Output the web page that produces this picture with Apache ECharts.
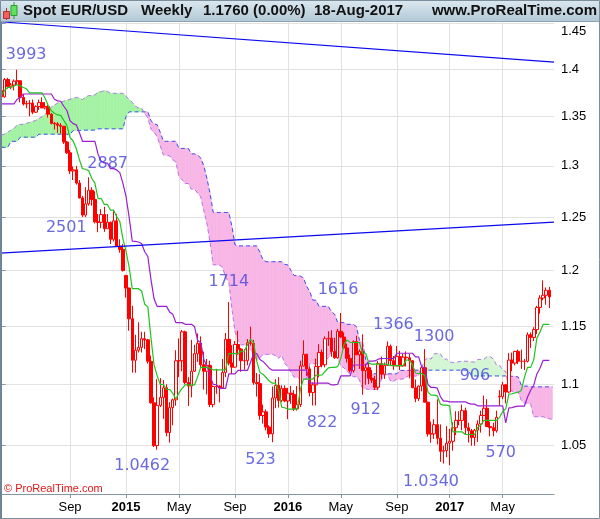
<!DOCTYPE html>
<html><head><meta charset="utf-8">
<script src="https://cdn.jsdelivr.net/npm/echarts@6/dist/echarts.min.js"></script>
<style>html,body{margin:0;padding:0;background:#fff}#c{width:600px;height:519px}</style>
</head><body><div id="c"></div><script>
// ---------- data (weekly EUR/USD, week index 0 = 2014-03-31) ----------
const startWeek = '2014-03-31';
const xTickIdx  = [22, 40, 57, 75, 92, 109, 127, 144, 161];
const xTickText = ['Sep', '2015', 'May', 'Sep', '2016', 'May', 'Sep', '2017', 'May'];
const yTickVals = [1.05, 1.1, 1.15, 1.2, 1.25, 1.3, 1.35, 1.4, 1.45];
const yRange = [1.0114, 1.4513];

const open = [
1.3770,1.3705,1.3888,1.3812,1.3830,1.3870,1.3875,1.3700,1.3630,1.3635,
1.3640,1.3545,1.3605,1.3645,1.3590,1.3605,1.3525,1.3430,1.3425,1.3410,
1.3400,1.3240,1.3131,1.2950,1.2962,1.2830,1.2685,1.2520,1.2628,1.2760,
1.2670,1.2455,1.2450,1.2525,1.2390,1.2452,1.2290,1.2465,1.2227,1.2195,
1.1955,1.1840,1.1565,1.1204,1.1290,1.1315,1.1390,1.1380,1.1195,1.0845,
1.0495,1.0823,1.0890,1.0970,1.0600,1.0805,1.0870,1.1200,1.1200,1.1450,
1.1015,1.0985,1.1110,1.1260,1.1350,1.1165,1.1110,1.1160,1.0830,1.0980,
1.0985,1.0970,1.1100,1.1385,1.1180,1.1145,1.1340,1.1300,1.1200,1.1200,
1.1355,1.1350,1.1015,1.1005,1.0740,1.0770,1.0645,1.0590,1.0885,1.0990,
1.0865,1.0965,1.0860,1.0925,1.0915,1.0795,1.0830,1.1155,1.1255,1.1130,
1.0930,1.0995,1.1150,1.1270,1.1165,1.1390,1.1395,1.1280,1.1225,1.1455,
1.1405,1.1310,1.1220,1.1115,1.1365,1.1250,1.1280,1.1115,1.1140,1.1050,
1.1035,1.0975,1.1175,1.1085,1.1160,1.1325,1.1200,1.1155,1.1235,1.1155,
1.1230,1.1225,1.1200,1.0970,1.0880,1.0985,1.1140,1.0850,1.0590,1.0590,
1.0665,1.0555,1.0450,1.0455,1.0515,1.0530,1.0640,1.0700,1.0700,1.0780,
1.0640,1.0615,1.0560,1.0620,1.0670,1.0740,1.0800,1.0650,1.0640,1.0615,
1.0900,1.0895,1.0995,1.0935,1.1205,1.1180,1.1280,1.1195,1.1195,1.1195,
1.1425,1.1400,1.1470,1.1665,1.1750,1.1775,1.1820];
const close = [
1.3705,1.3888,1.3812,1.3830,1.3870,1.3875,1.3700,1.3630,1.3635,1.3640,
1.3545,1.3605,1.3645,1.3590,1.3605,1.3525,1.3430,1.3425,1.3410,1.3400,
1.3240,1.3131,1.2950,1.2962,1.2830,1.2685,1.2520,1.2628,1.2760,1.2670,
1.2455,1.2450,1.2525,1.2390,1.2452,1.2290,1.2465,1.2227,1.2195,1.2000,
1.1840,1.1565,1.1204,1.1290,1.1315,1.1390,1.1380,1.1195,1.0845,1.0495,
1.0823,1.0890,1.0970,1.0600,1.0805,1.0870,1.1200,1.1200,1.1450,1.1015,
1.0985,1.1110,1.1260,1.1350,1.1165,1.1110,1.1160,1.0830,1.0980,1.0985,
1.0970,1.1100,1.1385,1.1180,1.1145,1.1340,1.1300,1.1200,1.1200,1.1355,
1.1350,1.1015,1.1005,1.0740,1.0770,1.0645,1.0590,1.0885,1.0990,1.0865,
1.0965,1.0860,1.0925,1.0915,1.0795,1.0830,1.1155,1.1255,1.1130,1.0930,
1.0995,1.1150,1.1270,1.1165,1.1390,1.1395,1.1280,1.1225,1.1455,1.1405,
1.1310,1.1220,1.1115,1.1365,1.1250,1.1280,1.1115,1.1140,1.1050,1.1035,
1.0975,1.1175,1.1085,1.1160,1.1325,1.1200,1.1155,1.1235,1.1155,1.1230,
1.1225,1.1200,1.0970,1.0880,1.0985,1.1140,1.0850,1.0590,1.0590,1.0665,
1.0555,1.0450,1.0455,1.0515,1.0530,1.0640,1.0700,1.0700,1.0780,1.0640,
1.0615,1.0560,1.0620,1.0670,1.0740,1.0800,1.0650,1.0640,1.0615,1.0725,
1.0895,1.0995,1.0935,1.1205,1.1180,1.1280,1.1195,1.1195,1.1195,1.1425,
1.1400,1.1470,1.1665,1.1750,1.1775,1.1820,1.1760];
const high = [
1.3810,1.3905,1.3906,1.3852,1.3890,1.3993,1.3877,1.3734,1.3665,1.3670,
1.3677,1.3616,1.3677,1.3700,1.3650,1.3640,1.3535,1.3445,1.3443,1.3433,
1.3404,1.3250,1.3160,1.2995,1.3000,1.2860,1.2705,1.2790,1.2887,1.2790,
1.2750,1.2530,1.2577,1.2600,1.2530,1.2456,1.2570,1.2530,1.2290,1.2245,
1.1960,1.1843,1.1680,1.1424,1.1534,1.1450,1.1450,1.1388,1.1245,1.0890,
1.1043,1.1052,1.1035,1.1000,1.0850,1.0880,1.1290,1.1392,1.1467,1.1460,
1.1060,1.1380,1.1337,1.1436,1.1410,1.1278,1.1215,1.1200,1.0990,1.1130,
1.0990,1.1215,1.1440,1.1714,1.1334,1.1370,1.1460,1.1310,1.1300,1.1387,
1.1495,1.1380,1.1095,1.1085,1.0830,1.0790,1.0660,1.0981,1.1043,1.1060,
1.0990,1.0990,1.0970,1.0986,1.0950,1.0985,1.1200,1.1376,1.1260,1.1150,
1.1015,1.1218,1.1342,1.1295,1.1410,1.1455,1.1464,1.1398,1.1476,1.1616,
1.1445,1.1348,1.1252,1.1375,1.1416,1.1297,1.1428,1.1175,1.1185,1.1120,
1.1070,1.1198,1.1235,1.1185,1.1366,1.1340,1.1240,1.1327,1.1285,1.1257,
1.1280,1.1260,1.1205,1.1040,1.0990,1.1145,1.1300,1.0855,1.0690,1.0710,
1.0874,1.0667,1.0495,1.0653,1.0630,1.0685,1.0775,1.0775,1.0830,1.0805,
1.0680,1.0630,1.0630,1.0700,1.0780,1.0905,1.0875,1.0690,1.0680,1.0780,
1.0950,1.1020,1.1000,1.1265,1.1270,1.1285,1.1295,1.1295,1.1215,1.1445,
1.1445,1.1490,1.1680,1.1775,1.1910,1.1845,1.1850];
const low = [
1.3673,1.3697,1.3792,1.3786,1.3773,1.3832,1.3648,1.3615,1.3586,1.3503,
1.3525,1.3539,1.3568,1.3590,1.3574,1.3490,1.3420,1.3367,1.3333,1.3325,
1.3221,1.3120,1.2920,1.2860,1.2815,1.2680,1.2501,1.2500,1.2610,1.2610,
1.2440,1.2357,1.2395,1.2360,1.2390,1.2246,1.2270,1.2220,1.2165,1.1990,
1.1754,1.1460,1.1098,1.1097,1.1270,1.1270,1.1300,1.1176,1.0838,1.0485,
1.0462,1.0810,1.0713,1.0570,1.0520,1.0660,1.0820,1.1060,1.1110,1.1000,
1.0819,1.0890,1.1105,1.1190,1.1133,1.0955,1.0915,1.0809,1.0807,1.0920,
1.0848,1.0960,1.1060,1.1160,1.1087,1.1140,1.1250,1.1105,1.1123,1.1160,
1.1330,1.0995,1.0897,1.0705,1.0674,1.0618,1.0558,1.0523,1.0800,1.0805,
1.0850,1.0850,1.0710,1.0836,1.0778,1.0780,1.0810,1.1150,1.1070,1.0898,
1.0822,1.0823,1.1058,1.1144,1.1143,1.1328,1.1234,1.1215,1.1217,1.1395,
1.1300,1.1185,1.1099,1.1098,1.1248,1.1130,1.0912,1.0995,1.1000,1.1010,
1.0952,1.0950,1.1045,1.1045,1.1155,1.1160,1.1120,1.1155,1.1120,1.1150,
1.1150,1.1050,1.0968,1.0850,1.0860,1.0940,1.0850,1.0568,1.0518,1.0550,
1.0505,1.0366,1.0352,1.0403,1.0340,1.0455,1.0580,1.0660,1.0620,1.0590,
1.0520,1.0494,1.0495,1.0525,1.0600,1.0735,1.0650,1.0570,1.0570,1.0600,
1.0820,1.0875,1.0840,1.0925,1.1110,1.1160,1.1170,1.1130,1.1120,1.1185,
1.1310,1.1370,1.1430,1.1610,1.1730,1.1690,1.1660];

// Ichimoku lines
const tenkan = [
1.3722,1.3774,1.3805,1.3805,1.3820,1.3833,1.3821,1.3804,1.3790,1.3748,
1.3748,1.3748,1.3748,1.3748,1.3690,1.3612,1.3560,1.3534,1.3517,1.3513,
1.3461,1.3410,1.3285,1.3250,1.3175,1.3063,1.2972,1.2967,1.2952,1.2875,
1.2830,1.2679,1.2679,1.2622,1.2622,1.2567,1.2567,1.2505,1.2458,1.2295,
1.2177,1.2030,1.1834,1.1834,1.1834,1.1814,1.1694,1.1671,1.1399,1.1164,
1.1071,1.0998,1.0998,1.0956,1.0956,1.0925,1.0876,1.0927,1.0965,1.0994,
1.0994,1.0994,1.0994,1.1064,1.1143,1.1143,1.1143,1.1135,1.1122,1.1122,
1.1122,1.1122,1.1124,1.1261,1.1261,1.1261,1.1261,1.1281,1.1281,1.1337,
1.1387,1.1355,1.1196,1.1100,1.1085,1.1057,1.1027,1.1009,1.1009,1.0952,
1.0809,1.0804,1.0792,1.0792,1.0792,1.0792,1.0955,1.1043,1.1043,1.1043,
1.1043,1.1077,1.1077,1.1078,1.1110,1.1139,1.1143,1.1143,1.1149,1.1220,
1.1337,1.1380,1.1358,1.1357,1.1357,1.1357,1.1264,1.1264,1.1179,1.1170,
1.1170,1.1170,1.1170,1.1170,1.1170,1.1158,1.1158,1.1158,1.1158,1.1158,
1.1206,1.1206,1.1167,1.1095,1.1089,1.1089,1.1075,1.0934,1.0909,1.0909,
1.0903,1.0833,1.0826,1.0826,1.0820,1.0607,1.0607,1.0607,1.0607,1.0585,
1.0585,1.0585,1.0585,1.0643,1.0662,1.0700,1.0700,1.0700,1.0700,1.0700,
1.0723,1.0773,1.0795,1.0918,1.0920,1.0928,1.0933,1.0948,1.1058,1.1143,
1.1143,1.1208,1.1395,1.1448,1.1515,1.1515,1.1515];
const kijun = [
1.3631,1.3631,1.3631,1.3631,1.3631,1.3680,1.3697,1.3735,1.3735,1.3735,
1.3735,1.3735,1.3735,1.3735,1.3735,1.3735,1.3735,1.3680,1.3663,1.3659,
1.3607,1.3563,1.3457,1.3427,1.3415,1.3337,1.3247,1.3247,1.3247,1.3247,
1.3247,1.3117,1.3046,1.3029,1.3029,1.2973,1.2973,1.2960,1.2933,1.2828,
1.2697,1.2498,1.2272,1.2270,1.2265,1.2251,1.2174,1.2129,1.1919,1.1743,
1.1675,1.1675,1.1675,1.1675,1.1626,1.1606,1.1531,1.1531,1.1531,1.1516,
1.1516,1.1516,1.1496,1.1376,1.1354,1.1211,1.1153,1.1071,1.0998,1.0998,
1.0965,1.0965,1.0965,1.1088,1.1088,1.1088,1.1117,1.1117,1.1117,1.1117,
1.1187,1.1261,1.1261,1.1210,1.1194,1.1166,1.1136,1.1119,1.1119,1.1119,
1.1119,1.1119,1.1119,1.1119,1.1119,1.1119,1.1119,1.1119,1.1119,1.1009,
1.1009,1.1009,1.1009,1.1009,1.1009,1.1009,1.0994,1.0994,1.1000,1.1070,
1.1070,1.1070,1.1070,1.1163,1.1163,1.1163,1.1163,1.1163,1.1197,1.1197,
1.1198,1.1213,1.1219,1.1219,1.1219,1.1219,1.1219,1.1264,1.1264,1.1264,
1.1264,1.1264,1.1264,1.1233,1.1233,1.1148,1.1139,1.0998,1.0973,1.0973,
1.0967,1.0897,1.0859,1.0859,1.0853,1.0853,1.0853,1.0853,1.0853,1.0853,
1.0840,1.0834,1.0834,1.0820,1.0820,1.0820,1.0820,1.0820,1.0820,1.0820,
1.0820,1.0820,1.0680,1.0803,1.0805,1.0813,1.0818,1.0818,1.0818,1.0893,
1.0950,1.0992,1.1087,1.1135,1.1202,1.1202,1.1202];
const spanA = [
1.3310,1.3320,1.3340,1.3360,1.3380,1.3410,1.3420,1.3420,1.3430,1.3440,
1.3450,1.3460,1.3480,1.3500,1.3520,1.3560,1.3600,1.3620,1.3640,1.3650,
1.3660,1.3670,1.3680,1.3690,1.3700,1.3690,1.3677,1.3703,1.3718,1.3718,
1.3726,1.3757,1.3759,1.3770,1.3763,1.3742,1.3742,1.3742,1.3742,1.3742,
1.3713,1.3674,1.3648,1.3607,1.3590,1.3586,1.3534,1.3487,1.3371,1.3339,
1.3295,1.3200,1.3110,1.3107,1.3100,1.3061,1.3039,1.2898,1.2863,1.2826,
1.2826,1.2770,1.2770,1.2733,1.2696,1.2562,1.2437,1.2264,1.2053,1.2052,
1.2050,1.2033,1.1934,1.1900,1.1659,1.1454,1.1373,1.1337,1.1337,1.1316,
1.1291,1.1266,1.1204,1.1229,1.1248,1.1255,1.1255,1.1255,1.1245,1.1220,
1.1249,1.1177,1.1148,1.1103,1.1060,1.1060,1.1044,1.1044,1.1045,1.1175,
1.1175,1.1175,1.1189,1.1199,1.1199,1.1227,1.1287,1.1308,1.1229,1.1155,
1.1140,1.1112,1.1082,1.1064,1.1064,1.1036,1.0964,1.0962,1.0956,1.0956,
1.0956,1.0956,1.1037,1.1081,1.1081,1.1026,1.1026,1.1043,1.1043,1.1044,
1.1060,1.1074,1.1069,1.1069,1.1075,1.1145,1.1204,1.1225,1.1214,1.1260,
1.1260,1.1260,1.1214,1.1214,1.1188,1.1184,1.1184,1.1192,1.1195,1.1195,
1.1195,1.1189,1.1189,1.1211,1.1211,1.1211,1.1235,1.1235,1.1216,1.1164,
1.1161,1.1119,1.1107,1.0966,1.0941,1.0941,1.0935,1.0865,1.0843,1.0843,
1.0837,1.0730,1.0730,1.0730,1.0730,1.0719,1.0713,1.0710];
const spanB = [
1.3186,1.3186,1.3186,1.3247,1.3247,1.3247,1.3289,1.3289,1.3289,1.3289,
1.3289,1.3289,1.3319,1.3319,1.3319,1.3319,1.3319,1.3319,1.3319,1.3319,
1.3319,1.3319,1.3319,1.3356,1.3356,1.3356,1.3361,1.3361,1.3361,1.3361,
1.3361,1.3374,1.3374,1.3374,1.3374,1.3374,1.3374,1.3374,1.3374,1.3374,
1.3502,1.3549,1.3549,1.3549,1.3549,1.3549,1.3549,1.3549,1.3457,1.3427,
1.3415,1.3337,1.3247,1.3247,1.3247,1.3247,1.3247,1.3175,1.3175,1.3175,
1.3175,1.3120,1.3120,1.3107,1.3079,1.2999,1.2874,1.2727,1.2546,1.2545,
1.2545,1.2545,1.2545,1.2545,1.2416,1.2239,1.2228,1.2228,1.2228,1.2228,
1.2228,1.2228,1.2228,1.2170,1.2098,1.2081,1.2081,1.2081,1.2081,1.2081,
1.2081,1.2056,1.2051,1.1999,1.1954,1.1953,1.1948,1.1933,1.1856,1.1811,
1.1731,1.1731,1.1675,1.1675,1.1675,1.1675,1.1626,1.1606,1.1531,1.1531,
1.1531,1.1516,1.1516,1.1516,1.1496,1.1376,1.1354,1.1211,1.1153,1.1088,
1.1088,1.1088,1.1088,1.1088,1.1088,1.1088,1.1088,1.1088,1.1117,1.1117,
1.1117,1.1117,1.1119,1.1119,1.1119,1.1119,1.1119,1.1119,1.1119,1.1119,
1.1119,1.1119,1.1119,1.1119,1.1119,1.1119,1.1119,1.1119,1.1119,1.1119,
1.1119,1.1070,1.1070,1.1070,1.1070,1.1070,1.1070,1.1070,1.1070,1.1070,
1.1070,1.1070,1.1070,1.1070,1.1067,1.1067,1.1061,1.0991,1.0984,1.0984,
1.0978,1.0978,1.0978,1.0978,1.0978,1.0978,1.0978,1.0978];

// straight trend lines: [weekIndex, price] end points
const trendUpper = [[-0.5, 1.4516], [177.5, 1.4075]];
const trendLower = [[-0.5, 1.2160], [177.5, 1.2453]];

// annotations (pips / levels) at [weekIndex, price]
const annoText  = ['3993','2887','2501','1714','1616','1366','1300','906','1.0462','523','822','912','1.0340','570'];
const annoIdx   = [7.9, 34.1, 20.8, 73.0, 108.1, 125.9, 139.0, 152.1, 45.2, 83.2, 103.0, 117.0, 138.0, 160.4];
const annoPrice = [1.4151, 1.3019, 1.2401, 1.1895, 1.1822, 1.1510, 1.1404, 1.1069, 1.0333, 1.0380, 1.0682, 1.0785, 1.0207, 1.0436];

// ---------- build ----------
const ln = Math.log;
const nCat = spanA.length; // 178 week slots
const cats = [];
{ const d0 = new Date(startWeek + 'T00:00:00Z');
  for (let i = 0; i < nCat; i++) { const d = new Date(d0.getTime() + i * 7 * 86400000); cats.push(d.toISOString().slice(0, 10)); } }

const candleData = open.map((o, i) => [ln(o), ln(close[i]), ln(low[i]), ln(high[i])]);
const lineData = arr => arr.map((v, i) => [i, ln(v)]);
const cloudData = [];
for (let i = 0; i < spanA.length - 1; i++) cloudData.push([i, ln(spanA[i]), ln(spanB[i]), ln(spanA[i + 1]), ln(spanB[i + 1])]);

const GREEN = '#a4f3a4', GREEN_LATE = '#d4f6d4', PINK = '#f8b6e6';
const FONT = '"Liberation Sans", Arial, sans-serif';

const chart = echarts.init(document.getElementById('c'), null, { renderer: 'canvas' });
chart.setOption({
  animation: false,
  backgroundColor: '#ffffff',
  grid: { left: -4.34, right: 46, top: 22, bottom: 25, show: false },
  xAxis: [
    { type: 'category', data: cats, show: false, boundaryGap: true },
    { type: 'value', min: -0.5, max: nCat - 0.5, position: 'bottom',
      axisLine: { show: true, lineStyle: { color: '#8796a3', width: 1 } },
      axisTick: { show: true, customValues: xTickIdx, length: 4, lineStyle: { color: '#8796a3' } },
      axisLabel: { customValues: xTickIdx, margin: 7, fontSize: 13, color: '#000', fontFamily: FONT,
        formatter: v => { const k = xTickIdx.indexOf(Math.round(v)); const t = k >= 0 ? xTickText[k] : '';
          return /^\d{4}$/.test(t) ? '{b|' + t + '}' : t; },
        rich: { b: { fontWeight: 'bold', fontSize: 13, color: '#000', fontFamily: FONT } } },
      splitLine: { show: true, lineStyle: { color: '#e2e2e2', width: 1 } } }
  ],
  yAxis: {
    type: 'value', position: 'right', min: ln(yRange[0]), max: ln(yRange[1]),
    axisLine: { show: true, lineStyle: { color: '#8796a3' } },
    axisTick: { show: true, customValues: yTickVals.map(ln), length: 4, lineStyle: { color: '#8796a3' } },
    axisLabel: { customValues: yTickVals.map(ln), margin: 7, fontSize: 13, color: '#000', fontFamily: FONT,
      formatter: v => { const p = +Math.exp(v).toFixed(2); const s = String(p); return p > 1.44 ? '{t|' + s + '}' : s; },
      rich: { t: { padding: [16, 0, 0, 0], fontSize: 13, color: '#000', fontFamily: FONT } } },
    splitLine: { show: true, lineStyle: { color: '#e2e2e2', width: 1 } }
  },
  series: [
    { type: 'custom', name: 'cloud', xAxisIndex: 1, z: 1, silent: true, data: cloudData,
      renderItem: (params, api) => {
        const i = api.value(0), a0 = api.value(1), b0 = api.value(2), a1 = api.value(3), b1 = api.value(4);
        const pa0 = api.coord([i, a0]), pb0 = api.coord([i, b0]), pa1 = api.coord([i + 1, a1]), pb1 = api.coord([i + 1, b1]);
        const d0 = a0 - b0, d1 = a1 - b1;
        const col = d => (d >= 0 ? (i > 100 ? GREEN_LATE : GREEN) : PINK);
        const poly = (pts, c) => ({ type: 'polygon', shape: { points: pts }, style: { fill: c, stroke: c, lineWidth: 0.6 } });
        if (d0 * d1 >= 0) return poly([pa0, pa1, pb1, pb0], col(d0 !== 0 ? d0 : d1));
        const t = d0 / (d0 - d1);
        const px = [pa0[0] + t * (pa1[0] - pa0[0]), pa0[1] + t * (pa1[1] - pa0[1])];
        return { type: 'group', children: [poly([pa0, px, pb0], col(d0)), poly([px, pa1, pb1], col(d1))] };
      } },
    { type: 'line', name: 'spanB', xAxisIndex: 1, z: 2, data: lineData(spanB), symbol: 'none', silent: true,
      lineStyle: { color: '#3a4fe8', width: 1, type: [4, 3] } },
    { type: 'line', name: 'spanA', xAxisIndex: 1, z: 2, data: lineData(spanA), symbol: 'none', silent: true,
      lineStyle: { color: '#b577ec', width: 1, type: [4, 3] } },
    { type: 'candlestick', name: 'EURUSD', xAxisIndex: 0, z: 3, data: candleData, barWidth: 3,
      itemStyle: { color: '#ffffff', color0: '#ff0000', borderColor: '#ff0000', borderColor0: '#ff0000', borderColorDoji: '#ff0000', borderWidth: 1 } },
    { type: 'line', name: 'kijun', xAxisIndex: 1, z: 4, data: lineData(kijun), symbol: 'none', silent: true,
      lineStyle: { color: '#9a1fd0', width: 1.2 } },
    { type: 'line', name: 'tenkan', xAxisIndex: 1, z: 4, data: lineData(tenkan), symbol: 'none', silent: true,
      lineStyle: { color: '#1fc41f', width: 1.2 } },
    { type: 'line', name: 'trendUpper', xAxisIndex: 1, z: 5, data: trendUpper.map(p => [p[0], ln(p[1])]), symbol: 'none', silent: true,
      lineStyle: { color: '#0a0af0', width: 1.2 } },
    { type: 'line', name: 'trendLower', xAxisIndex: 1, z: 5, data: trendLower.map(p => [p[0], ln(p[1])]), symbol: 'none', silent: true,
      lineStyle: { color: '#0a0af0', width: 1.2 } },
    { type: 'scatter', name: 'notes', xAxisIndex: 1, z: 6, silent: true, symbolSize: 1,
      itemStyle: { color: 'rgba(0,0,0,0)' },
      data: annoIdx.map((x, k) => [x, ln(annoPrice[k])]),
      label: { show: true, position: 'inside', formatter: p => annoText[p.dataIndex],
        color: '#4343d8', fontSize: 16, fontFamily: '"DejaVu Sans", Verdana, sans-serif' } }
  ],
  graphic: [
    { type: 'rect', z: 100, shape: { x: 0, y: 0, width: 600, height: 21 },
      style: { fill: new echarts.graphic.LinearGradient(0, 0, 0, 1, [{ offset: 0, color: '#dce8f0' }, { offset: 1, color: '#b3c9d6' }]) } },
    { type: 'line', z: 101, shape: { x1: 0, y1: 21.5, x2: 600, y2: 21.5 }, style: { stroke: '#8da3b3', lineWidth: 1 } },
    // icon
    { type: 'line', z: 101, shape: { x1: 6.5, y1: 8, x2: 6.5, y2: 20 }, style: { stroke: '#b03030', lineWidth: 1 } },
    { type: 'rect', z: 102, shape: { x: 3.5, y: 11.5, width: 6, height: 7 }, style: { fill: '#f06060', stroke: '#b03030', lineWidth: 1 } },
    { type: 'line', z: 101, shape: { x1: 14, y1: 2, x2: 14, y2: 19 }, style: { stroke: '#2f9a2f', lineWidth: 1 } },
    { type: 'rect', z: 102, shape: { x: 11, y: 5.5, width: 6, height: 10 }, style: { fill: '#5fe05f', stroke: '#2f9a2f', lineWidth: 1 } },
    { type: 'text', z: 103, style: { x: 23, y: 11, text: 'Spot EUR/USD', font: 'bold 15px ' + FONT, fill: '#111', verticalAlign: 'middle' } },
    { type: 'text', z: 103, style: { x: 141, y: 11, text: 'Weekly', font: 'bold 15px ' + FONT, fill: '#111', verticalAlign: 'middle' } },
    { type: 'text', z: 103, style: { x: 203, y: 11, text: '1.1760 (0.00%)', font: 'bold 15px ' + FONT, fill: '#111', verticalAlign: 'middle' } },
    { type: 'text', z: 103, style: { x: 314, y: 11, text: '18-Aug-2017', font: 'bold 15px ' + FONT, fill: '#111', verticalAlign: 'middle' } },
    { type: 'text', z: 103, style: { x: 597, y: 11, text: 'www.ProRealTime.com', font: 'bold 15px ' + FONT, fill: '#111', align: 'right', verticalAlign: 'middle' } },
    // watermark
    { type: 'text', z: 103, style: { x: 4, y: 489, text: '\u00a9 ProRealTime.com', font: '11px ' + FONT, fill: '#e01818', verticalAlign: 'middle' } },
    // frame
    { type: 'rect', z: 104, shape: { x: 0.5, y: 0.5, width: 599, height: 518 }, style: { fill: null, stroke: '#7b8e9c', lineWidth: 1 } },
    { type: 'line', z: 104, shape: { x1: 1, y1: 22, x2: 1, y2: 519 }, style: { stroke: '#6f8494', lineWidth: 2 } }
  ]
});
</script></body></html>
